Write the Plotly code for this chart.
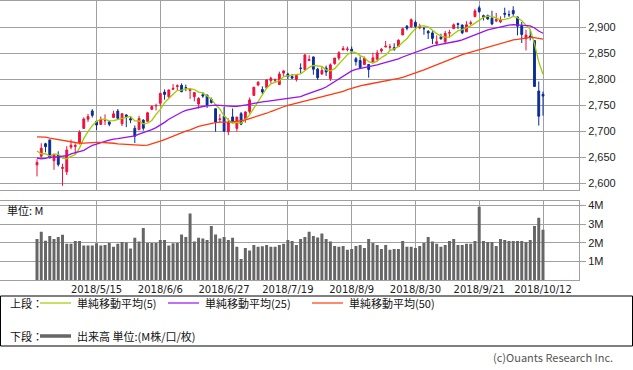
import plotly.graph_objects as go

# ---------------- data ----------------
dates = ["2018/4/25","2018/4/26","2018/4/27","2018/4/30",
 "2018/5/1","2018/5/2","2018/5/3","2018/5/4","2018/5/7","2018/5/8","2018/5/9","2018/5/10","2018/5/11",
 "2018/5/14","2018/5/15","2018/5/16","2018/5/17","2018/5/18","2018/5/21","2018/5/22","2018/5/23",
 "2018/5/24","2018/5/25","2018/5/29","2018/5/30","2018/5/31",
 "2018/6/1","2018/6/4","2018/6/5","2018/6/6","2018/6/7","2018/6/8","2018/6/11","2018/6/12","2018/6/13",
 "2018/6/14","2018/6/15","2018/6/18","2018/6/19","2018/6/20","2018/6/21","2018/6/22","2018/6/25",
 "2018/6/26","2018/6/27","2018/6/28","2018/6/29",
 "2018/7/2","2018/7/3","2018/7/5","2018/7/6","2018/7/9","2018/7/10","2018/7/11","2018/7/12","2018/7/13",
 "2018/7/16","2018/7/17","2018/7/18","2018/7/19","2018/7/20","2018/7/23","2018/7/24","2018/7/25",
 "2018/7/26","2018/7/27","2018/7/30","2018/7/31",
 "2018/8/1","2018/8/2","2018/8/3","2018/8/6","2018/8/7","2018/8/8","2018/8/9","2018/8/10","2018/8/13",
 "2018/8/14","2018/8/15","2018/8/16","2018/8/17","2018/8/20","2018/8/21","2018/8/22","2018/8/23",
 "2018/8/24","2018/8/27","2018/8/28","2018/8/29","2018/8/30","2018/8/31",
 "2018/9/4","2018/9/5","2018/9/6","2018/9/7","2018/9/10","2018/9/11","2018/9/12","2018/9/13","2018/9/14",
 "2018/9/17","2018/9/18","2018/9/19","2018/9/20","2018/9/21","2018/9/24","2018/9/25","2018/9/26",
 "2018/9/27","2018/9/28",
 "2018/10/1","2018/10/2","2018/10/3","2018/10/4","2018/10/5","2018/10/8","2018/10/9","2018/10/10",
 "2018/10/11","2018/10/12"]

opens = [2634.9,2651.6,2675.5,2682.9,2643.0,2654.2,2628.1,2621.5,2669.0,2670.3,2678.1,2705.0,2722.7,
 2738.5,2718.6,2712.6,2719.7,2717.4,2726.0,2738.3,2714.0,2730.9,2723.6,2705.1,2702.4,2721.0,
 2718.7,2741.7,2748.5,2753.3,2774.8,2765.8,2780.2,2785.6,2787.9,2783.2,2777.8,2765.8,2752.0,2769.7,
 2769.3,2760.8,2742.9,2722.1,2728.5,2698.7,2727.1,2705.0,2733.3,2724.2,2737.7,2768.5,2788.6,2779.8,
 2783.1,2796.9,2797.4,2789.3,2811.4,2809.4,2804.6,2799.2,2820.7,2817.7,2835.5,2842.4,2819.0,2809.7,
 2821.2,2800.5,2829.6,2840.3,2855.9,2856.8,2857.2,2838.9,2835.5,2827.9,2828.0,2831.4,2838.3,2853.9,
 2861.5,2861.0,2860.3,2862.4,2884.7,2901.5,2900.6,2908.9,2898.4,2897.0,2891.6,2888.6,2868.3,2881.4,
 2871.6,2888.3,2896.9,2906.4,2903.8,2890.7,2906.6,2919.7,2936.8,2921.8,2921.8,2917.0,2911.7,2910.0,
 2926.3,2923.8,2931.7,2919.4,2902.5,2877.5,2882.5,2873.9,2776.9,2770.5]
highs = [2645.8,2676.5,2677.4,2682.9,2655.3,2660.9,2637.1,2670.9,2683.4,2676.3,2701.3,2726.1,2732.9,
 2742.1,2718.6,2727.8,2732.0,2719.5,2739.2,2742.2,2733.3,2732.0,2727.4,2710.7,2729.3,2722.5,
 2736.9,2749.2,2752.6,2772.4,2779.9,2779.4,2790.2,2789.8,2791.5,2789.1,2782.8,2775.0,2765.1,2774.9,
 2769.3,2764.2,2742.9,2732.9,2746.1,2724.3,2743.3,2727.3,2736.6,2737.8,2764.4,2784.7,2795.6,2785.9,
 2799.2,2804.5,2801.2,2814.2,2816.8,2812.1,2809.7,2808.6,2830.0,2848.0,2845.6,2843.2,2821.7,2824.5,
 2825.8,2829.9,2840.4,2853.3,2863.4,2862.4,2862.5,2842.2,2843.4,2843.1,2828.0,2850.5,2855.6,2859.8,
 2873.2,2867.5,2868.8,2876.2,2898.3,2903.8,2916.5,2912.5,2906.3,2900.2,2894.2,2892.1,2883.8,2886.9,
 2892.5,2894.7,2906.8,2908.3,2904.7,2911.2,2912.4,2934.8,2940.9,2923.8,2924.0,2931.2,2927.2,2920.5,
 2937.1,2931.4,2939.9,2919.8,2909.6,2894.8,2894.8,2874.0,2795.1,2775.8]
lows = [2612.7,2647.2,2659.0,2648.0,2625.4,2631.7,2594.6,2615.3,2664.7,2655.2,2674.1,2704.5,2717.5,
 2725.9,2701.9,2712.2,2711.4,2709.2,2725.7,2721.9,2709.5,2707.4,2715.0,2676.8,2702.4,2700.7,
 2718.7,2740.5,2739.5,2748.5,2760.2,2763.6,2779.3,2778.8,2774.7,2776.5,2761.7,2757.1,2743.2,2763.9,
 2744.4,2752.7,2698.7,2715.6,2699.0,2692.0,2718.0,2699.0,2711.2,2716.0,2733.5,2768.5,2786.2,2770.8,
 2783.1,2791.7,2793.4,2789.2,2805.9,2799.8,2800.0,2795.1,2811.1,2817.7,2835.3,2808.3,2798.1,2808.1,
 2805.9,2796.3,2827.4,2836.0,2855.9,2853.1,2848.6,2825.8,2819.9,2826.6,2802.5,2831.4,2833.7,2850.6,
 2861.3,2856.1,2854.0,2862.4,2884.7,2893.5,2898.4,2895.2,2895.8,2885.1,2876.9,2867.3,2864.1,2875.9,
 2866.8,2879.2,2896.4,2895.8,2886.2,2890.4,2903.8,2919.7,2927.1,2912.6,2913.7,2903.3,2909.3,2907.5,
 2917.9,2919.4,2921.4,2883.9,2869.3,2855.0,2874.3,2784.9,2710.5,2729.4]
closes = [2639.4,2666.9,2669.9,2648.1,2654.8,2635.7,2629.7,2663.4,2672.6,2671.9,2697.8,2723.1,2727.7,
 2730.1,2711.5,2722.5,2720.1,2713.0,2733.0,2724.4,2733.3,2727.8,2721.3,2689.9,2724.0,2705.3,
 2735.0,2746.9,2748.8,2772.4,2770.4,2779.0,2782.0,2786.9,2775.6,2782.5,2779.7,2773.9,2762.6,2767.3,
 2749.8,2754.9,2717.1,2723.1,2699.6,2716.3,2718.4,2726.7,2713.2,2736.6,2759.8,2784.2,2793.8,2775.0,
 2798.3,2801.3,2798.4,2809.6,2815.6,2804.5,2801.8,2807.0,2820.4,2846.1,2837.4,2818.8,2802.6,2816.3,
 2813.4,2827.2,2840.4,2850.4,2858.5,2857.7,2853.6,2833.3,2821.9,2840.0,2818.4,2840.7,2850.1,2857.1,
 2863.0,2861.8,2857.0,2874.7,2896.7,2897.5,2914.0,2901.1,2901.5,2896.7,2888.6,2878.1,2871.7,2877.1,
 2887.9,2888.9,2904.2,2905.0,2888.8,2904.3,2908.0,2930.8,2929.7,2919.4,2915.6,2906.0,2914.0,2914.0,
 2924.6,2923.4,2925.5,2901.6,2885.6,2884.4,2880.3,2785.7,2728.4,2767.1]

# closes before the first visible day, needed for the moving averages
history_closes = [2662.94,2698.63,2731.20,2732.22,2716.26,2701.33,2703.96,2747.30,2779.60,2744.28,2713.83,
 2677.67,2691.25,2720.94,2728.12,2726.80,2738.97,2786.57,2783.02,2765.31,2749.48,2747.33,2752.01,
 2712.92,2716.94,2711.93,2643.69,2588.26,2658.55,2612.62,2605.00,2640.87,
 2581.88,2614.45,2644.69,2662.84,2604.47,2613.16,2656.87,2642.19,2663.99,2656.30,2677.84,2706.39,
 2708.64,2693.13,2670.14,2670.29,2634.56]

volumes = [2.21,2.60,2.12,2.37,2.21,2.32,2.43,1.96,1.96,2.10,2.10,1.86,1.86,1.86,1.98,1.86,1.89,2.00,
 1.79,1.95,2.05,2.02,1.70,2.27,2.07,2.80,2.00,2.00,2.00,2.16,2.16,1.86,1.98,2.00,2.45,2.32,3.57,2.07,
 2.27,2.23,2.16,2.91,2.45,2.23,2.32,2.16,2.27,1.79,1.14,1.73,1.59,1.89,1.79,1.82,1.89,1.79,1.79,1.89,
 1.96,2.16,2.10,1.89,2.21,2.32,2.60,2.37,2.29,2.50,2.21,2.07,1.84,1.79,1.84,1.63,1.68,1.84,1.89,1.73,
 2.21,2.00,1.89,1.68,1.89,1.63,1.68,1.68,2.10,1.79,1.79,1.73,1.84,2.00,2.32,2.07,1.96,1.79,1.89,2.10,
 2.21,1.89,1.89,1.96,1.96,2.10,3.93,2.10,2.05,2.05,1.84,2.21,2.16,2.10,2.10,2.10,2.10,2.05,2.16,2.91,
 3.34,2.70]

tick_dates = ["2018/5/15","2018/6/6","2018/6/27","2018/7/19","2018/8/9","2018/8/30","2018/9/21","2018/10/12"]
price_ticks = [2600, 2650, 2700, 2750, 2800, 2850, 2900]
vol_ticks = [1, 2, 3, 4]
vol_tick_text = ["1M", "2M", "3M", "4M"]
ma_periods = [5, 25, 50]
ma_names = ["単純移動平均(5)", "単純移動平均(25)", "単純移動平均(50)"]

# ---------------- styling ----------------
W, H = 633, 370
RED = "#f0103c"
BLUE = "#0b2d96"
MA_COLORS = ["#a0cc00", "#9a10f0", "#ff3a10"]
GRID = "#a0a0a0"
VOL_COLOR = "#666666"

def px(x):
    return x / W

def py(y):
    return 1 - y / H

idx = list(range(len(dates)))
all_closes = history_closes + closes
n_hist = len(history_closes)

def sma(period):
    out = []
    for i in range(len(closes)):
        j = n_hist + i
        window = all_closes[j - period + 1:j + 1]
        out.append(sum(window) / period)
    return out

fig = go.Figure()

fig.add_trace(go.Candlestick(
    x=idx, open=opens, high=highs, low=lows, close=closes,
    increasing=dict(line=dict(color=RED, width=1), fillcolor=RED),
    decreasing=dict(line=dict(color=BLUE, width=1), fillcolor=BLUE),
    whiskerwidth=0, showlegend=False, xaxis="x", yaxis="y", hoverinfo="skip"))

for p, col in zip(ma_periods, MA_COLORS):
    fig.add_trace(go.Scatter(x=idx, y=sma(p), mode="lines",
                             line=dict(color=col, width=1.3),
                             showlegend=False, xaxis="x", yaxis="y", hoverinfo="skip"))

fig.add_trace(go.Bar(x=idx, y=volumes, marker=dict(color=VOL_COLOR, line=dict(width=0)),
                     showlegend=False, xaxis="x2", yaxis="y2", hoverinfo="skip"))

spd = (543 - 37) / (len(dates) - 1)
xr = [-37 / spd, (579 - 37) / spd]
tickvals = [dates.index(d) for d in tick_dates]

p_top, p_bot = 27, 183  # pixel rows of 2900 / 2600
ppp = (p_bot - p_top) / (2900 - 2600)
y_top_val = 2900 + (p_top - 0.5) / ppp
y_bot_val = 2600 - (190 - p_bot) / ppp

v0, v4 = 280.3, 205.5
vpp = (v0 - v4) / 4
v_top = (v0 - 201) / vpp

axis_common = dict(showgrid=True, gridcolor=GRID, gridwidth=1, zeroline=False,
                   showline=True, linecolor=GRID, linewidth=1)

fig.update_layout(
    width=W, height=H, margin=dict(l=0, r=0, t=0, b=0),
    paper_bgcolor="white", plot_bgcolor="white",
    showlegend=False, bargap=0.3, boxgap=0.38,
    xaxis=dict(domain=[0, px(579)], range=xr, tickvals=tickvals, showticklabels=False,
               rangeslider=dict(visible=False), mirror=True, ticks="", **axis_common),
    yaxis=dict(domain=[py(190), py(0.5)], range=[y_bot_val, y_top_val], side="right",
               tickvals=price_ticks, tickformat=",d", ticks="outside", ticklen=6,
               tickcolor=GRID, mirror=True, automargin=False,
               tickfont=dict(family="Liberation Sans, Arial", size=11, color="#222"),
               **axis_common),
    xaxis2=dict(domain=[0, px(579)], range=xr, tickvals=tickvals, ticktext=tick_dates,
                anchor="y2", mirror=True, ticks="", automargin=False,
                tickfont=dict(family="DejaVu Sans", size=10, color="#222"), **axis_common),
    yaxis2=dict(domain=[py(280.3), py(201)], range=[0, v_top], side="right", anchor="x2",
                tickvals=vol_ticks, ticktext=vol_tick_text, ticks="outside", ticklen=6,
                tickcolor=GRID, mirror=True, automargin=False,
                tickfont=dict(family="Liberation Sans, Arial", size=11, color="#222"),
                **axis_common),
)

JP = "Noto Sans CJK JP"
ann = []
shapes = []

ann.append(dict(x=px(5), y=py(210), xref="paper", yref="paper", text="単位: M", showarrow=False,
                xanchor="left", yanchor="middle", font=dict(family=JP, size=11, color="#111")))

# legend box
shapes.append(dict(type="rect", xref="paper", yref="paper", x0=px(0.5), x1=px(632.5),
                   y0=py(296), y1=py(346), line=dict(color="black", width=1)))

row1, row2 = 303, 336
ann.append(dict(x=px(8), y=py(row1), xref="paper", yref="paper", text="上段：", showarrow=False,
                xanchor="left", yanchor="middle", font=dict(family=JP, size=11, color="#111")))
ann.append(dict(x=px(8), y=py(row2), xref="paper", yref="paper", text="下段：", showarrow=False,
                xanchor="left", yanchor="middle", font=dict(family=JP, size=11, color="#111")))

leg_x = [40, 168, 312]
for lx, col, name in zip(leg_x, MA_COLORS, ma_names):
    shapes.append(dict(type="line", xref="paper", yref="paper", x0=px(lx), x1=px(lx + 31),
                       y0=py(row1), y1=py(row1), line=dict(color=col, width=1.2)))
    ann.append(dict(x=px(lx + 35), y=py(row1), xref="paper", yref="paper", text=name,
                    showarrow=False, xanchor="left", yanchor="middle",
                    font=dict(family=JP, size=11, color="#111")))

shapes.append(dict(type="line", xref="paper", yref="paper", x0=px(40), x1=px(71),
                   y0=py(row2), y1=py(row2), line=dict(color=VOL_COLOR, width=3.5)))
ann.append(dict(x=px(75), y=py(row2), xref="paper", yref="paper", text="出来高 単位:(M株/口/枚)",
                showarrow=False, xanchor="left", yanchor="middle",
                font=dict(family=JP, size=11, color="#111")))

ann.append(dict(x=px(615), y=py(357), xref="paper", yref="paper", text="(c)Ouants Research Inc.",
                showarrow=False, xanchor="right", yanchor="middle",
                font=dict(family=JP, size=11, color="#555")))

fig.update_layout(annotations=ann, shapes=shapes)

fig.write_html("out.html", config={"displayModeBar": False},
               post_script="document.body.style.margin='0';document.body.style.overflow='hidden';")
